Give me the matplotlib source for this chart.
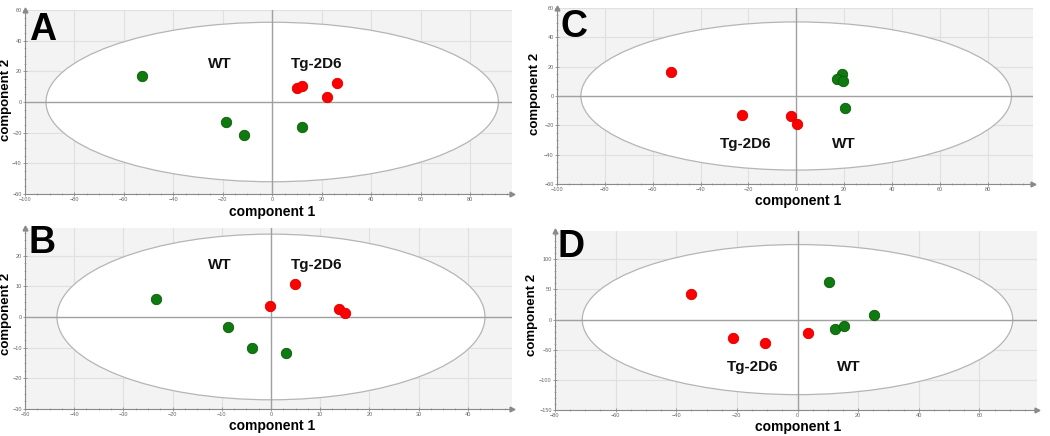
import matplotlib
matplotlib.use("Agg")
import matplotlib.pyplot as plt
from matplotlib.patches import Ellipse
from matplotlib.ticker import MultipleLocator

plt.rcParams['font.family'] = ['Liberation Sans', 'DejaVu Sans']

W, H = 1050, 436

# ---------------- data ----------------
panel_names = ["A", "B", "C", "D"]

a_wt_x = [-52.8, -18.5, -11.6, 12.1]
a_wt_y = [17.2, -13.0, -21.7, -16.1]
a_tg_x = [10.1, 12.0, 22.2, 26.2]
a_tg_y = [8.9, 10.4, 3.3, 12.4]

b_wt_x = [-23.4, -8.8, -3.8, 3.0]
b_wt_y = [6.0, -3.4, -10.0, -11.9]
b_tg_x = [-0.2, 4.9, 13.9, 15.0]
b_tg_y = [3.7, 10.6, 2.6, 1.4]

c_wt_x = [19.0, 17.2, 19.5, 20.6]
c_wt_y = [15.3, 11.9, 10.5, -7.9]
c_tg_x = [-52.2, -22.6, -2.1, 0.4]
c_tg_y = [16.2, -12.9, -13.6, -18.8]

d_wt_x = [10.5, 12.4, 15.2, 25.2]
d_wt_y = [62.0, -16.0, -10.0, 7.8]
d_tg_x = [-35.0, -21.2, -10.7, 3.6]
d_tg_y = [41.7, -30.0, -38.8, -22.8]

group_labels = ["WT", "Tg-2D6"]
label_pos = {
    "A": [(-21, 25), (18, 25)],
    "B": [(-10.3, 16.8), (9.3, 16.8)],
    "C": [(20, -33), (-21, -33)],
    "D": [(17, -79), (-14.9, -79)],
}
ellipse_radii = {"A": (91.5, 52), "B": (43.5, 27), "C": (90, 50.5), "D": (71, 124.5)}
xlims = {"A": (-100, 97), "B": (-50, 49), "C": (-100, 99), "D": (-80, 79)}
ylims = {"A": (-60, 60), "B": (-30, 29), "C": (-60, 60), "D": (-150, 147)}
xmajor = {"A": 20, "B": 10, "C": 20, "D": 20}
ymajor = {"A": 20, "B": 10, "C": 20, "D": 50}
xminor = {"A": 5, "B": 2.5, "C": 5, "D": 5}
yminor = {"A": 5, "B": 2.5, "C": 5, "D": 10}

# pixel boxes: left, right, top, bottom
boxes = {
    "A": (25, 512, 10, 194),
    "B": (25, 512, 228, 409),
    "C": (557, 1033, 8, 184),
    "D": (555, 1037, 231, 410),
}
letter_px = {"A": (29, 12), "B": (28, 225), "C": (561, 9), "D": (558, 229)}
ylab_px = {"A": (6, 100), "B": (6, 314), "C": (535, 94), "D": (532, 315)}
xlab_px = {"A": (272, 212), "B": (272, 426), "C": (798, 201), "D": (798, 427)}

series = {
    "A": (a_wt_x, a_wt_y, a_tg_x, a_tg_y),
    "B": (b_wt_x, b_wt_y, b_tg_x, b_tg_y),
    "C": (c_wt_x, c_wt_y, c_tg_x, c_tg_y),
    "D": (d_wt_x, d_wt_y, d_tg_x, d_tg_y),
}

GREEN = "#0f7a0f"
GREEN_E = "#0a5a0a"
RED = "#ff0000"
RED_E = "#d40000"

fig = plt.figure(figsize=(W / 100, H / 100), dpi=100)
fig.patch.set_facecolor("white")

for p in panel_names:
    l, r, t, b = boxes[p]
    ax = fig.add_axes([l / W, 1 - b / H, (r - l) / W, (b - t) / H])
    ax.set_facecolor("#f3f3f3")
    ax.set_xlim(*xlims[p])
    ax.set_ylim(*ylims[p])
    ax.xaxis.set_major_locator(MultipleLocator(xmajor[p]))
    ax.yaxis.set_major_locator(MultipleLocator(ymajor[p]))
    ax.xaxis.set_minor_locator(MultipleLocator(xminor[p]))
    ax.yaxis.set_minor_locator(MultipleLocator(yminor[p]))
    ax.grid(True, which="major", color="#e0e0e0", linewidth=0.8, zorder=0)
    ax.set_axisbelow(True)
    for s in ["top", "right"]:
        ax.spines[s].set_visible(False)
    for s in ["left", "bottom"]:
        ax.spines[s].set_color("#8a8a8a")
        ax.spines[s].set_linewidth(0.8)
    ax.tick_params(which="major", direction="inout", length=3, width=0.6,
                   colors="#8a8a8a", labelsize=4, labelcolor="#666666", pad=0.8)
    ax.tick_params(which="minor", direction="inout", length=2, width=0.5,
                   colors="#9a9a9a")
    rx, ry = ellipse_radii[p]
    ax.add_patch(Ellipse((0, 0), 2 * rx, 2 * ry, facecolor="white",
                         edgecolor="#b5b5b5", linewidth=0.9, zorder=1))
    ax.axhline(0, color="#a0a0a0", linewidth=1.0, zorder=2)
    ax.axvline(0, color="#a0a0a0", linewidth=1.0, zorder=2)
    wx, wy, tx, ty = series[p]
    ax.plot(wx, wy, "o", color=GREEN, markeredgecolor=GREEN_E, markeredgewidth=0.6,
            markersize=7.5, zorder=4, linestyle="none")
    ax.plot(tx, ty, "o", color=RED, markeredgecolor=RED_E, markeredgewidth=0.6,
            markersize=7.5, zorder=4, linestyle="none")
    for name, (lx, ly) in zip(group_labels, label_pos[p]):
        ax.text(lx, ly, name, ha="center", va="center", fontsize=11,
                fontweight="bold", color="#111111", zorder=5)
    # axis arrows
    ax.plot(1, 0, ">", transform=ax.transAxes, clip_on=False, color="#8a8a8a",
            markersize=3.5, zorder=6)
    ax.plot(0, 1, "^", transform=ax.transAxes, clip_on=False, color="#8a8a8a",
            markersize=3.5, zorder=6)

    lx_, ly_ = letter_px[p]
    fig.text(lx_ / W, 1 - ly_ / H, p, ha="left", va="top", fontsize=27,
             fontweight="bold", color="black")
    yx, yy = ylab_px[p]
    fig.text(yx / W, 1 - yy / H, "component 2", rotation=90, ha="center",
             va="center", fontsize=9.5, fontweight="bold")
    xx, xy = xlab_px[p]
    fig.text(xx / W, 1 - xy / H, "component 1", ha="center", va="center",
             fontsize=10, fontweight="bold")

fig.savefig("out.png", dpi=100, facecolor="white")
